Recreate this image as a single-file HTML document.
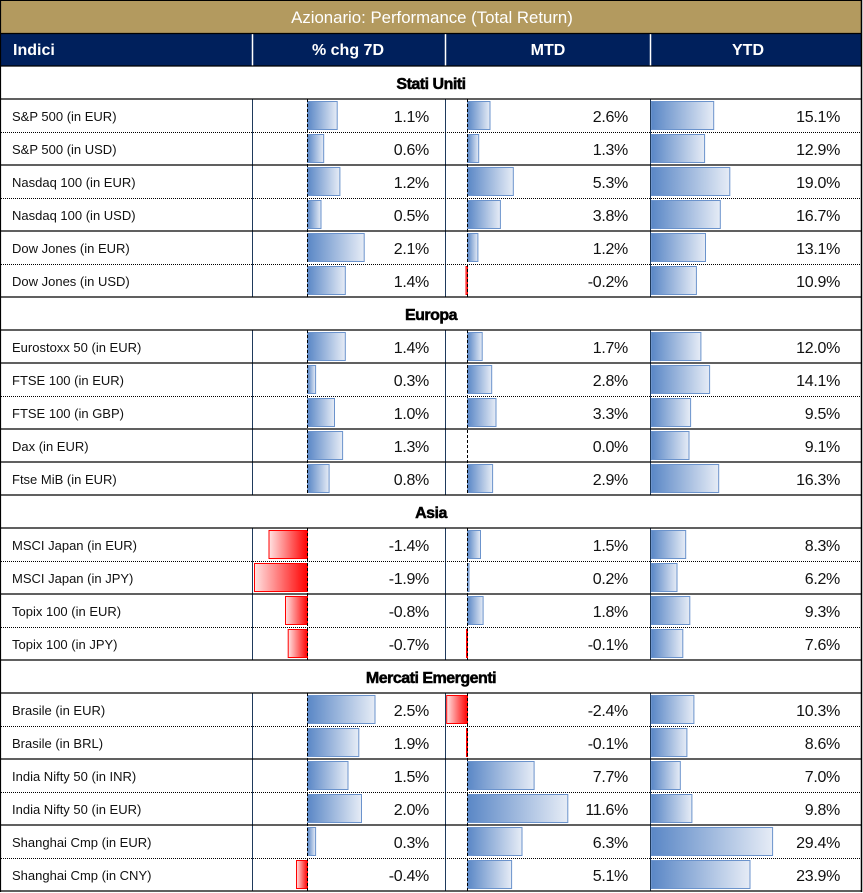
<!DOCTYPE html>
<html><head><meta charset="utf-8"><style>
html,body{margin:0;padding:0;background:#fff;}
svg{display:block;}
.lb{font-family:"Liberation Sans",sans-serif;font-size:13px;fill:#111;}
.v{font-family:"Liberation Sans",sans-serif;font-size:16px;fill:#111;text-anchor:end;letter-spacing:-0.3px;}
.g{font-family:"Liberation Sans",sans-serif;font-size:16px;font-weight:bold;fill:#000;stroke:#000;stroke-width:0.5;letter-spacing:-0.5px;text-anchor:middle;}
.h{font-family:"Liberation Sans",sans-serif;font-size:16px;font-weight:bold;fill:#fff;}
.b{fill:url(#gb);stroke:#6b93cc;stroke-width:1;}
.r{fill:url(#gr);stroke:#ff0000;stroke-width:1;}
</style></head><body>
<svg width="863" height="893" viewBox="0 0 863 893" xmlns="http://www.w3.org/2000/svg">
<defs>
<linearGradient id="gb" x1="0" y1="0" x2="1" y2="0"><stop offset="0" stop-color="#5a87c6"/><stop offset="1" stop-color="#e6ecf6"/></linearGradient>
<linearGradient id="gr" x1="0" y1="0" x2="1" y2="0"><stop offset="0" stop-color="#ffe3e3"/><stop offset="1" stop-color="#ff0000"/></linearGradient>
</defs>
<rect x="0" y="0" width="863" height="893" fill="#fff"/>
<rect x="0" y="0" width="862" height="33" fill="#b39a5f"/>
<rect x="0" y="33" width="862" height="33" fill="#00205c"/>
<text x="432" y="23" fill="#fff" font-family="Liberation Sans, sans-serif" font-size="16.8" text-anchor="middle">Azionario: Performance (Total Return)</text>
<text class="h" x="13" y="55">Indici</text>
<text class="h" x="348" y="55" text-anchor="middle">% chg 7D</text>
<text class="h" x="548" y="55" text-anchor="middle">MTD</text>
<text class="h" x="748" y="55" text-anchor="middle">YTD</text>
<g stroke="#fff" stroke-width="1.5">
<line x1="252.5" y1="34" x2="252.5" y2="66"/><line x1="445.5" y1="34" x2="445.5" y2="66"/><line x1="650.5" y1="34" x2="650.5" y2="66"/>
</g>

<!-- bars 7D -->
<rect class="b" x="307.5" y="101.5" width="29.7" height="28"/>
<rect class="b" x="307.5" y="134.5" width="16.2" height="28"/>
<rect class="b" x="307.5" y="167.5" width="32.4" height="28"/>
<rect class="b" x="307.5" y="200.5" width="13.5" height="28"/>
<rect class="b" x="307.5" y="233.5" width="56.7" height="28"/>
<rect class="b" x="307.5" y="266.5" width="37.8" height="28"/>
<rect class="b" x="307.5" y="332.5" width="37.8" height="28"/>
<rect class="b" x="307.5" y="365.5" width="8.1" height="28"/>
<rect class="b" x="307.5" y="398.5" width="27" height="28"/>
<rect class="b" x="307.5" y="431.5" width="35.1" height="28"/>
<rect class="b" x="307.5" y="464.5" width="21.6" height="28"/>
<rect class="r" x="269" y="530.5" width="38.5" height="28"/>
<rect class="r" x="254.5" y="563.5" width="53" height="28"/>
<rect class="r" x="285.5" y="596.5" width="22" height="28"/>
<rect class="r" x="288.2" y="629.5" width="19.3" height="28"/>
<rect class="b" x="307.5" y="695.5" width="67.5" height="28"/>
<rect class="b" x="307.5" y="728.5" width="51.3" height="28"/>
<rect class="b" x="307.5" y="761.5" width="40.5" height="28"/>
<rect class="b" x="307.5" y="794.5" width="54" height="28"/>
<rect class="b" x="307.5" y="827.5" width="8.1" height="28"/>
<rect class="r" x="296.5" y="860.5" width="11" height="28"/>

<!-- bars MTD -->
<rect class="b" x="467.5" y="101.5" width="22.5" height="28"/>
<rect class="b" x="467.5" y="134.5" width="11.2" height="28"/>
<rect class="b" x="467.5" y="167.5" width="45.8" height="28"/>
<rect class="b" x="467.5" y="200.5" width="32.9" height="28"/>
<rect class="b" x="467.5" y="233.5" width="10.4" height="28"/>
<rect class="r" x="466" y="266.5" width="1.5" height="28"/>
<rect class="b" x="467.5" y="332.5" width="14.7" height="28"/>
<rect class="b" x="467.5" y="365.5" width="24.2" height="28"/>
<rect class="b" x="467.5" y="398.5" width="28.5" height="28"/>
<rect class="b" x="467.5" y="464.5" width="25.1" height="28"/>
<rect class="b" x="467.5" y="530.5" width="13" height="28"/>
<rect class="b" x="467.5" y="563.5" width="1.5" height="28"/>
<rect class="b" x="467.5" y="596.5" width="15.6" height="28"/>
<rect class="r" x="466.5" y="629.5" width="1" height="28"/>
<rect class="r" x="446.7" y="695.5" width="20.8" height="28"/>
<rect class="r" x="466.5" y="728.5" width="1" height="28"/>
<rect class="b" x="467.5" y="761.5" width="66.6" height="28"/>
<rect class="b" x="467.5" y="794.5" width="100.3" height="28"/>
<rect class="b" x="467.5" y="827.5" width="54.5" height="28"/>
<rect class="b" x="467.5" y="860.5" width="44.1" height="28"/>

<!-- bars YTD -->
<rect class="b" x="651.5" y="101.5" width="62.2" height="28"/>
<rect class="b" x="651.5" y="134.5" width="53.1" height="28"/>
<rect class="b" x="651.5" y="167.5" width="78.3" height="28"/>
<rect class="b" x="651.5" y="200.5" width="68.8" height="28"/>
<rect class="b" x="651.5" y="233.5" width="54" height="28"/>
<rect class="b" x="651.5" y="266.5" width="44.9" height="28"/>
<rect class="b" x="651.5" y="332.5" width="49.4" height="28"/>
<rect class="b" x="651.5" y="365.5" width="58.1" height="28"/>
<rect class="b" x="651.5" y="398.5" width="39.1" height="28"/>
<rect class="b" x="651.5" y="431.5" width="37.5" height="28"/>
<rect class="b" x="651.5" y="464.5" width="67.2" height="28"/>
<rect class="b" x="651.5" y="530.5" width="34.2" height="28"/>
<rect class="b" x="651.5" y="563.5" width="25.5" height="28"/>
<rect class="b" x="651.5" y="596.5" width="38.3" height="28"/>
<rect class="b" x="651.5" y="629.5" width="31.3" height="28"/>
<rect class="b" x="651.5" y="695.5" width="42.4" height="28"/>
<rect class="b" x="651.5" y="728.5" width="35.4" height="28"/>
<rect class="b" x="651.5" y="761.5" width="28.8" height="28"/>
<rect class="b" x="651.5" y="794.5" width="40.4" height="28"/>
<rect class="b" x="651.5" y="827.5" width="121.1" height="28"/>
<rect class="b" x="651.5" y="860.5" width="98.5" height="28"/>

<!-- vertical column lines -->
<g stroke="#1f3a5c" stroke-width="1">
<line x1="252.5" y1="99" x2="252.5" y2="297"/><line x1="445.5" y1="99" x2="445.5" y2="297"/><line x1="650.5" y1="99" x2="650.5" y2="297"/>
<line x1="252.5" y1="330" x2="252.5" y2="495"/><line x1="445.5" y1="330" x2="445.5" y2="495"/><line x1="650.5" y1="330" x2="650.5" y2="495"/>
<line x1="252.5" y1="528" x2="252.5" y2="660"/><line x1="445.5" y1="528" x2="445.5" y2="660"/><line x1="650.5" y1="528" x2="650.5" y2="660"/>
<line x1="252.5" y1="693" x2="252.5" y2="891"/><line x1="445.5" y1="693" x2="445.5" y2="891"/><line x1="650.5" y1="693" x2="650.5" y2="891"/>
</g>
<!-- axis dashed lines -->
<g stroke="#000" stroke-width="1" stroke-dasharray="3,2">
<line x1="307.5" y1="99" x2="307.5" y2="297"/><line x1="467.5" y1="99" x2="467.5" y2="297"/>
<line x1="307.5" y1="330" x2="307.5" y2="495"/><line x1="467.5" y1="330" x2="467.5" y2="495"/>
<line x1="307.5" y1="528" x2="307.5" y2="660"/><line x1="467.5" y1="528" x2="467.5" y2="660"/>
<line x1="307.5" y1="693" x2="307.5" y2="891"/><line x1="467.5" y1="693" x2="467.5" y2="891"/>
</g>

<!-- horizontal solid lines -->
<g stroke="#000" stroke-width="1.3">
<line x1="0" y1="33.5" x2="862" y2="33.5"/>
<line x1="0" y1="66" x2="862" y2="66"/>
<line x1="0" y1="99" x2="862" y2="99"/>
<line x1="0" y1="165" x2="862" y2="165"/>
<line x1="0" y1="231" x2="862" y2="231"/>
<line x1="0" y1="297" x2="862" y2="297"/>
<line x1="0" y1="330" x2="862" y2="330"/>
<line x1="0" y1="363" x2="862" y2="363"/>
<line x1="0" y1="429" x2="862" y2="429"/>
<line x1="0" y1="462" x2="862" y2="462"/>
<line x1="0" y1="495" x2="862" y2="495"/>
<line x1="0" y1="528" x2="862" y2="528"/>
<line x1="0" y1="594" x2="862" y2="594"/>
<line x1="0" y1="660" x2="862" y2="660"/>
<line x1="0" y1="693" x2="862" y2="693"/>
<line x1="0" y1="759" x2="862" y2="759"/>
<line x1="0" y1="825" x2="862" y2="825"/>
<line x1="0" y1="891" x2="862" y2="891"/>
</g>
<!-- dotted lines -->
<g stroke="#000" stroke-width="1" stroke-dasharray="1,1">
<line x1="1" y1="132.5" x2="861" y2="132.5"/>
<line x1="1" y1="198.5" x2="861" y2="198.5"/>
<line x1="1" y1="264.5" x2="861" y2="264.5"/>
<line x1="1" y1="396.5" x2="861" y2="396.5"/>
<line x1="1" y1="561.5" x2="861" y2="561.5"/>
<line x1="1" y1="627.5" x2="861" y2="627.5"/>
<line x1="1" y1="726.5" x2="861" y2="726.5"/>
<line x1="1" y1="792.5" x2="861" y2="792.5"/>
<line x1="1" y1="858.5" x2="861" y2="858.5"/>
</g>
<!-- outer border -->
<line x1="0.5" y1="0" x2="0.5" y2="892" stroke="#000" stroke-width="1.2"/>
<line x1="861.5" y1="0" x2="861.5" y2="892" stroke="#000" stroke-width="1.5"/>
<line x1="0" y1="0.5" x2="862" y2="0.5" stroke="#000" stroke-width="1"/>

<!-- group headers -->
<text class="g" x="431" y="89">Stati Uniti</text>
<text class="g" x="431" y="320">Europa</text>
<text class="g" x="431" y="518">Asia</text>
<text class="g" x="431" y="683">Mercati Emergenti</text>

<!-- labels -->
<text class="lb" x="12" y="121">S&amp;P 500 (in EUR)</text>
<text class="lb" x="12" y="154">S&amp;P 500 (in USD)</text>
<text class="lb" x="12" y="187">Nasdaq 100 (in EUR)</text>
<text class="lb" x="12" y="220">Nasdaq 100 (in USD)</text>
<text class="lb" x="12" y="253">Dow Jones (in EUR)</text>
<text class="lb" x="12" y="286">Dow Jones (in USD)</text>
<text class="lb" x="12" y="352">Eurostoxx 50 (in EUR)</text>
<text class="lb" x="12" y="385">FTSE 100 (in EUR)</text>
<text class="lb" x="12" y="418">FTSE 100 (in GBP)</text>
<text class="lb" x="12" y="451">Dax (in EUR)</text>
<text class="lb" x="12" y="484">Ftse MiB (in EUR)</text>
<text class="lb" x="12" y="550">MSCI Japan (in EUR)</text>
<text class="lb" x="12" y="583">MSCI Japan (in JPY)</text>
<text class="lb" x="12" y="616">Topix 100 (in EUR)</text>
<text class="lb" x="12" y="649">Topix 100 (in JPY)</text>
<text class="lb" x="12" y="715">Brasile (in EUR)</text>
<text class="lb" x="12" y="748">Brasile (in BRL)</text>
<text class="lb" x="12" y="781">India Nifty 50 (in INR)</text>
<text class="lb" x="12" y="814">India Nifty 50 (in EUR)</text>
<text class="lb" x="12" y="847">Shanghai Cmp (in EUR)</text>
<text class="lb" x="12" y="880">Shanghai Cmp (in CNY)</text>

<!-- 7D values -->
<text class="v" x="429" y="122">1.1%</text>
<text class="v" x="429" y="155">0.6%</text>
<text class="v" x="429" y="188">1.2%</text>
<text class="v" x="429" y="221">0.5%</text>
<text class="v" x="429" y="254">2.1%</text>
<text class="v" x="429" y="287">1.4%</text>
<text class="v" x="429" y="353">1.4%</text>
<text class="v" x="429" y="386">0.3%</text>
<text class="v" x="429" y="419">1.0%</text>
<text class="v" x="429" y="452">1.3%</text>
<text class="v" x="429" y="485">0.8%</text>
<text class="v" x="429" y="551">-1.4%</text>
<text class="v" x="429" y="584">-1.9%</text>
<text class="v" x="429" y="617">-0.8%</text>
<text class="v" x="429" y="650">-0.7%</text>
<text class="v" x="429" y="716">2.5%</text>
<text class="v" x="429" y="749">1.9%</text>
<text class="v" x="429" y="782">1.5%</text>
<text class="v" x="429" y="815">2.0%</text>
<text class="v" x="429" y="848">0.3%</text>
<text class="v" x="429" y="881">-0.4%</text>

<!-- MTD values -->
<text class="v" x="628" y="122">2.6%</text>
<text class="v" x="628" y="155">1.3%</text>
<text class="v" x="628" y="188">5.3%</text>
<text class="v" x="628" y="221">3.8%</text>
<text class="v" x="628" y="254">1.2%</text>
<text class="v" x="628" y="287">-0.2%</text>
<text class="v" x="628" y="353">1.7%</text>
<text class="v" x="628" y="386">2.8%</text>
<text class="v" x="628" y="419">3.3%</text>
<text class="v" x="628" y="452">0.0%</text>
<text class="v" x="628" y="485">2.9%</text>
<text class="v" x="628" y="551">1.5%</text>
<text class="v" x="628" y="584">0.2%</text>
<text class="v" x="628" y="617">1.8%</text>
<text class="v" x="628" y="650">-0.1%</text>
<text class="v" x="628" y="716">-2.4%</text>
<text class="v" x="628" y="749">-0.1%</text>
<text class="v" x="628" y="782">7.7%</text>
<text class="v" x="628" y="815">11.6%</text>
<text class="v" x="628" y="848">6.3%</text>
<text class="v" x="628" y="881">5.1%</text>

<!-- YTD values -->
<text class="v" x="840" y="122">15.1%</text>
<text class="v" x="840" y="155">12.9%</text>
<text class="v" x="840" y="188">19.0%</text>
<text class="v" x="840" y="221">16.7%</text>
<text class="v" x="840" y="254">13.1%</text>
<text class="v" x="840" y="287">10.9%</text>
<text class="v" x="840" y="353">12.0%</text>
<text class="v" x="840" y="386">14.1%</text>
<text class="v" x="840" y="419">9.5%</text>
<text class="v" x="840" y="452">9.1%</text>
<text class="v" x="840" y="485">16.3%</text>
<text class="v" x="840" y="551">8.3%</text>
<text class="v" x="840" y="584">6.2%</text>
<text class="v" x="840" y="617">9.3%</text>
<text class="v" x="840" y="650">7.6%</text>
<text class="v" x="840" y="716">10.3%</text>
<text class="v" x="840" y="749">8.6%</text>
<text class="v" x="840" y="782">7.0%</text>
<text class="v" x="840" y="815">9.8%</text>
<text class="v" x="840" y="848">29.4%</text>
<text class="v" x="840" y="881">23.9%</text>
</svg>
</body></html>
